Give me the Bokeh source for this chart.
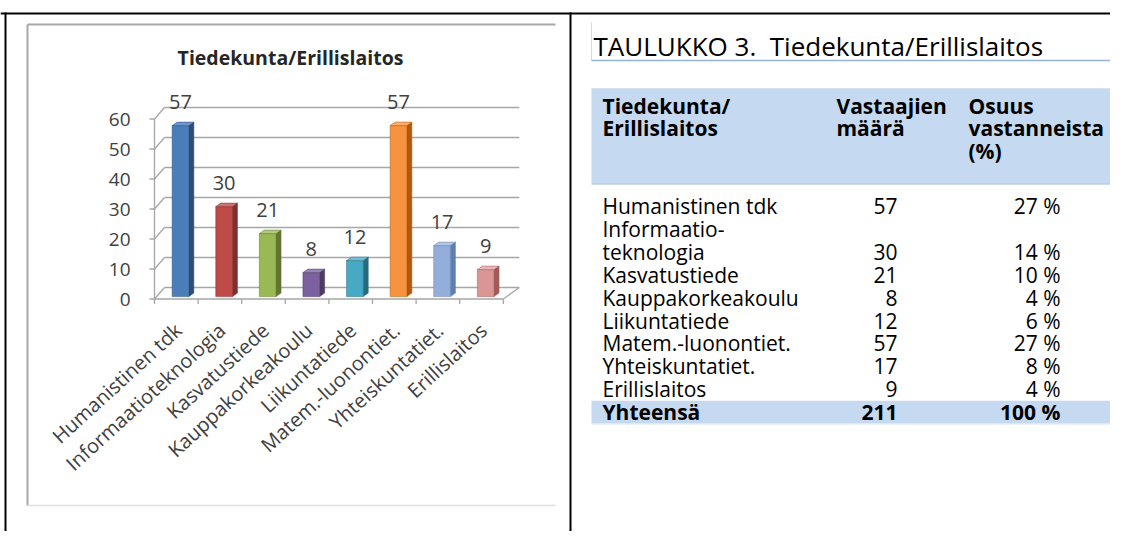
import math
from bokeh.plotting import figure
from bokeh.models import Range1d
from bokeh.core.properties import value
from bokeh.embed import file_html
from bokeh.resources import INLINE

# ---------------- data ----------------
categories = ["Humanistinen tdk", "Informaatioteknologia", "Kasvatustiede",
              "Kauppakorkeakoulu", "Liikuntatiede", "Matem.-luonontiet.",
              "Yhteiskuntatiet.", "Erillislaitos"]
counts = [57, 30, 21, 8, 12, 57, 17, 9]
percents = ["27 %", "14 %", "10 %", "4 %", "6 %", "27 %", "8 %", "4 %"]
total_count = "211"
total_percent = "100 %"
y_ticks = [0, 10, 20, 30, 40, 50, 60]
table_names = [["Humanistinen tdk"], ["Informaatio-", "teknologia"], ["Kasvatustiede"],
               ["Kauppakorkeakoulu"], ["Liikuntatiede"], ["Matem.-luonontiet."],
               ["Yhteiskuntatiet."], ["Erillislaitos"]]
header_cols = [["Tiedekunta/", "Erillislaitos"], ["Vastaajien", "määrä"],
               ["Osuus", "vastanneista", "(%)"]]
chart_title = "Tiedekunta/Erillislaitos"
table_title = "TAULUKKO 3.\u00a0 Tiedekunta/Erillislaitos"
total_label = "Yhteensä"

front_colors = ["#4A7EBB", "#BE4B48", "#98B954", "#7D60A0", "#46AAC5", "#F69240", "#93AEDA", "#DA9694"]
side_colors = ["#2C4D75", "#7F2F2D", "#5F7530", "#4D3B62", "#276A7C", "#B65708", "#5F7FAE", "#A05A58"]
top_colors = ["#6F97CB", "#D0706D", "#B0CB7B", "#9B82BA", "#6EC0D6", "#F9AE72", "#B4C7E7", "#E8B7B6"]

# ---------------- layout constants (px) ----------------
W, H = 1110, 531
PX_PER_CAT = 43.6
CAT0_X = 175.8          # centre of first category on the front axis
PX_PER_VAL = 3.0
VAL0_Y = 298.5          # value 0 on the front axis

p = figure(width=W, height=H, output_backend="svg", toolbar_location=None,
           x_range=Range1d(0, W), y_range=Range1d(H, 0),
           x_axis_location=None, y_axis_location=None, min_border=0)
p.grid.visible = False
p.outline_line_color = None
p.background_fill_color = "white"
p.border_fill_color = "white"

p.extra_x_ranges = {"cx": Range1d((0 - CAT0_X) / PX_PER_CAT, (W - CAT0_X) / PX_PER_CAT)}
p.extra_y_ranges = {"vy": Range1d((VAL0_Y - H) / PX_PER_VAL, VAL0_Y / PX_PER_VAL)}
C = dict(x_range_name="cx", y_range_name="vy")

FONT = value("Open Sans")

# ---------------- page frame lines ----------------
p.segment(x0=[0, 5, 570], y0=[13, 12, 12], x1=[W, 5, 570], y1=[13, H, H],
          line_color="black", line_width=2)
# chart picture border
p.segment(x0=[27, 27], y0=[24, 24], x1=[27, 555], y1=[505, 24], line_color="#A8A8A8", line_width=2)
p.segment(x0=[27], y0=[505], x1=[555], y1=[505], line_color="#E0E0E0", line_width=1.5)

# ---------------- chart ----------------
n = len(categories)
left, right = -0.5, n - 0.5
dxl, dxr = 10 / PX_PER_CAT, 16 / PX_PER_CAT
dyb = 11.5 / PX_PER_VAL
grid_col = "#A6A6A6"

# back wall gridlines
p.segment(x0=[left + dxl] * len(y_ticks), y0=[t + dyb for t in y_ticks],
          x1=[right + dxr] * len(y_ticks), y1=[t + dyb for t in y_ticks],
          line_color=grid_col, line_width=1.3, **C)
# side wall diagonals
p.segment(x0=[left] * len(y_ticks), y0=y_ticks, x1=[left + dxl] * len(y_ticks),
          y1=[t + dyb for t in y_ticks], line_color=grid_col, line_width=1.3, **C)
# floor front edge + right diagonal + front vertical axis
p.segment(x0=[left, right, left], y0=[0, 0, 0], x1=[right, right + dxr, left], y1=[0, dyb, y_ticks[-1]],
          line_color=grid_col, line_width=1.3, **C)
# value ticks
p.segment(x0=[left - 5 / PX_PER_CAT] * len(y_ticks), y0=y_ticks, x1=[left] * len(y_ticks), y1=y_ticks,
          line_color=grid_col, line_width=1.3, **C)
# category ticks
kb = [k - 0.5 for k in range(n + 1)]
p.segment(x0=kb, y0=[0] * len(kb), x1=kb, y1=[-5 / PX_PER_VAL] * len(kb),
          line_color=grid_col, line_width=1.3, **C)

# bars (front face, side face, top cap)
bar_off = 4.2 / PX_PER_CAT
bw = 16.7 / PX_PER_CAT
base = 0.8
ds = 5 / PX_PER_CAT
dh = 3.5 / PX_PER_VAL
xs_front, ys_front, xs_side, ys_side, xs_top, ys_top = [], [], [], [], [], []
for i, v in enumerate(counts):
    x0 = i + bar_off - bw / 2
    x1 = i + bar_off + bw / 2
    t = base + v
    xs_front.append([x0, x1, x1, x0]); ys_front.append([base, base, t, t])
    xs_side.append([x1, x1 + ds, x1 + ds, x1]); ys_side.append([base, base + dh, t + dh, t])
    xs_top.append([x0, x1, x1 + ds, x0 + ds]); ys_top.append([t, t, t + dh, t + dh])
p.patches(xs_side, ys_side, fill_color=side_colors, line_color=side_colors, line_width=0.5, **C)
p.patches(xs_front, ys_front, fill_color=front_colors, line_color=side_colors, line_width=0.5, **C)
p.patches(xs_top, ys_top, fill_color=top_colors, line_color=side_colors, line_width=0.5, **C)

# value labels
p.text(x=[i + bar_off for i in range(n)], y=[base + v + 24 / PX_PER_VAL for v in counts],
       text=[str(v) for v in counts], text_align="center", text_baseline="middle",
       text_font=FONT, text_font_size="20px", text_color="#404040", **C)

# y tick labels
p.text(x=[left - 24 / PX_PER_CAT] * len(y_ticks), y=y_ticks, text=[str(t) for t in y_ticks],
       text_align="right", text_baseline="middle", text_font=FONT,
       text_font_size="19px", text_color="#404040", **C)

# category labels
p.text(x=[i + 2 / PX_PER_CAT for i in range(n)], y=[-28 / PX_PER_VAL] * n, text=categories,
       angle=0.74, text_align="right", text_baseline="middle", text_font=FONT,
       text_font_size="20px", text_color="#404040", **C)

# chart title
p.text(x=[290], y=[57], text=[chart_title], text_align="center", text_baseline="middle",
       text_font=FONT, text_font_style="bold", text_font_size="19.5px", text_color="#262626")

# ---------------- table ----------------
TL, TR = 591, 1118
band = "#C5D9F1"
edge = "#95B3D7"
p.text(x=[593], y=[45], text=[table_title], text_baseline="middle",
       text_font=FONT, text_font_size="26px", text_color="black")
p.segment(x0=[591], y0=[22], x1=[591], y1=[60], line_color="#D9D9D9", line_width=1)
p.segment(x0=[TL], y0=[60], x1=[TR], y1=[60], line_color=edge, line_width=1.5)
p.segment(x0=[TL], y0=[88], x1=[TR], y1=[88], line_color="#DCE6F2", line_width=1)
p.quad(left=[TL], right=[TR], top=[88], bottom=[183], fill_color=band, line_color=None)
p.segment(x0=[TL], y0=[183.5], x1=[TR], y1=[183.5], line_color=edge, line_width=1)

col_x = [602, 836, 968]
head_mid = [105, 127.5, 150]
for cx_, lines in zip(col_x, header_cols):
    p.text(x=[cx_] * len(lines), y=head_mid[:len(lines)], text=lines, text_baseline="middle",
           text_font=FONT, text_font_style="bold", text_font_size="21px", text_color="black")

pitch = 22.9
row0 = 205.5
name_x, name_y, name_t = [], [], []
num_y = []
line = 0
for names in table_names:
    for nm in names:
        name_x.append(602); name_y.append(row0 + pitch * line); name_t.append(nm)
        line += 1
    num_y.append(row0 + pitch * (line - 1))
tot_y = row0 + pitch * line

p.quad(left=[TL], right=[TR], top=[tot_y - pitch / 2], bottom=[tot_y + pitch / 2], fill_color=band,
       line_color=None)
p.segment(x0=[TL], y0=[tot_y + pitch / 2 + 0.5], x1=[TR], y1=[tot_y + pitch / 2 + 0.5],
          line_color="#DCE6F2", line_width=1)

p.text(x=name_x, y=name_y, text=name_t, text_baseline="middle",
       text_font=FONT, text_font_size="21px", text_color="black")
p.text(x=[897] * n, y=num_y, text=[str(c) for c in counts], text_align="right",
       text_baseline="middle", text_font=FONT, text_font_size="21px", text_color="black")
p.text(x=[1060] * n, y=num_y, text=percents, text_align="right",
       text_baseline="middle", text_font=FONT, text_font_size="21px", text_color="black")
p.text(x=[602, 897, 1060], y=[tot_y] * 3, text=[total_label, total_count, total_percent],
       text_align=["left", "right", "right"], text_baseline="middle",
       text_font=FONT, text_font_style="bold", text_font_size="21px", text_color="black")

open("out.html", "w").write(file_html(p, INLINE))
